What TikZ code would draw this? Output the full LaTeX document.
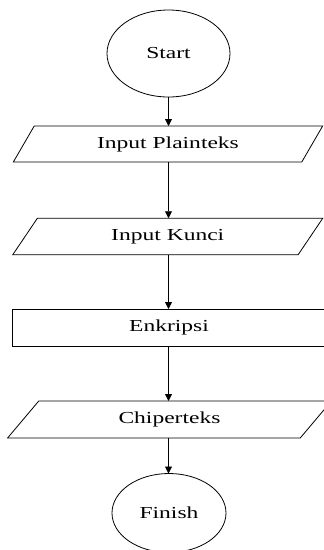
\documentclass[tikz,border=0pt]{standalone}
\usepackage{fontspec}
\usepackage{graphicx}
\setmainfont{Liberation Serif}
\usetikzlibrary{shapes.geometric,arrows.meta}
\newcommand{\lbl}[1]{\scalebox{1.4}[1]{\fontsize{16.8}{18}\selectfont #1}}
\tikzset{
  base/.style={draw=black, line width=0.8pt, inner sep=0pt, outer sep=0pt, font=\normalfont},
  term/.style={base, ellipse},
  iobox/.style={base, trapezium, trapezium stretches=true, trapezium left angle=#1, trapezium right angle=180-#1},
  procbox/.style={base, rectangle},
  flow/.style={draw=black, line width=0.8pt, -{Triangle[width=7pt,length=7pt]}}
}
\begin{document}
\begin{tikzpicture}[x=1pt,y=-1pt]
\useasboundingbox (0,0) rectangle (324,550);
\clip (0,0) rectangle (324,550);
\fill[white] (0,0) rectangle (324,550);
\node[term, minimum width=123pt, minimum height=87pt] (start) at (168.5,53.5) {\lbl{Start}};
\node[iobox=54, minimum width=310pt, minimum height=36pt] (plain) at (168,144) {\lbl{Input Plainteks}};
\node[iobox=54, minimum width=310.5pt, minimum height=36.5pt] (kunci) at (167.75,236.5) {\lbl{Input Kunci}};
\node[procbox, minimum width=314pt, minimum height=37pt] (enk) at (169,327.5) {\lbl{Enkripsi}};
\node[iobox=51.4, minimum width=324pt, minimum height=37pt] (chip) at (169.5,419.5) {\lbl{Chiperteks}};
\node[term, minimum width=114pt, minimum height=79pt] (fin) at (169,513) {\lbl{Finish}};
\draw[flow] (start.south) -- (start.south |- plain.north);
\draw[flow] (start.south |- plain.south) -- (start.south |- kunci.north);
\draw[flow] (start.south |- kunci.south) -- (start.south |- enk.north);
\draw[flow] (start.south |- enk.south) -- (start.south |- chip.north);
\draw[flow] (start.south |- chip.south) -- (start.south |- fin.north);
\end{tikzpicture}
\end{document}
